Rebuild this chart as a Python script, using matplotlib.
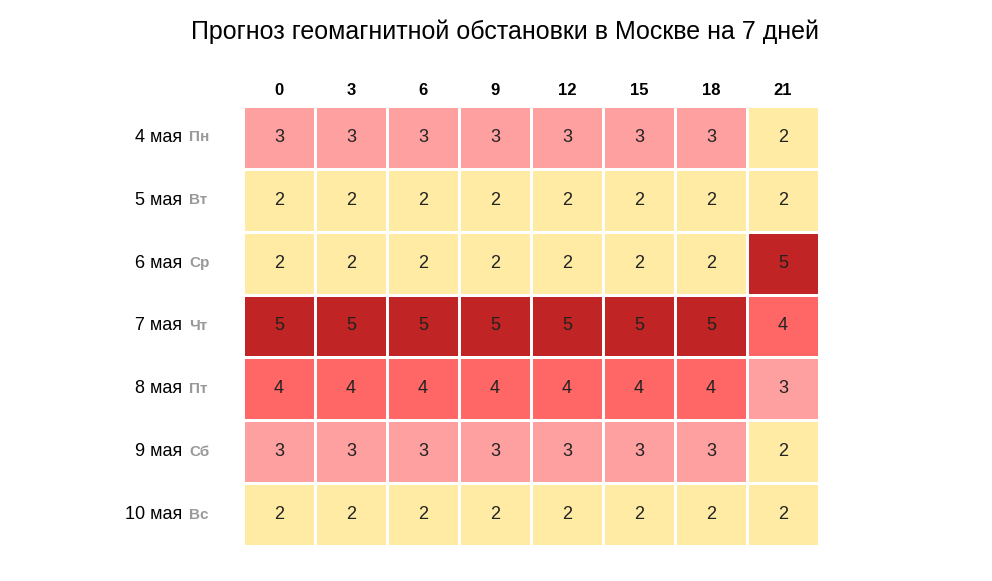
import matplotlib
matplotlib.use("Agg")
import matplotlib.pyplot as plt
from matplotlib.colors import ListedColormap, BoundaryNorm
import numpy as np

hours = ["0", "3", "6", "9", "12", "15", "18", "21"]
dates = ["4 мая", "5 мая", "6 мая", "7 мая", "8 мая", "9 мая", "10 мая"]
weekdays = ["Пн", "Вт", "Ср", "Чт", "Пт", "Сб", "Вс"]
values = [
    [3, 3, 3, 3, 3, 3, 3, 2],
    [2, 2, 2, 2, 2, 2, 2, 2],
    [2, 2, 2, 2, 2, 2, 2, 5],
    [5, 5, 5, 5, 5, 5, 5, 4],
    [4, 4, 4, 4, 4, 4, 4, 3],
    [3, 3, 3, 3, 3, 3, 3, 2],
    [2, 2, 2, 2, 2, 2, 2, 2],
]

plt.rcParams['font.family'] = ['Liberation Sans', 'DejaVu Sans']
fig = plt.figure(figsize=(9.92, 5.81), dpi=100)
ax = fig.add_axes([243/992, 35/581, 576/992, 440/581])
cmap = ListedColormap(["#FFEBA3", "#FFA0A0", "#FF6666", "#C02424"])
norm = BoundaryNorm([1.5, 2.5, 3.5, 4.5, 5.5], 4)
data = np.array(values)
ax.pcolormesh(data, cmap=cmap, norm=norm, edgecolors="white", linewidth=1)
ax.set_xlim(0, len(hours))
ax.set_ylim(len(dates), 0)
for i in range(len(dates)):
    for j in range(len(hours)):
        ax.text(j + 0.5, i + 0.5, str(values[i][j]), ha="center", va="center", fontsize=13, color="#222222")
for s in ax.spines.values():
    s.set_visible(False)
ax.set_xticks(np.arange(len(hours)) + 0.5)
ax.set_xticklabels(hours, fontweight="bold", fontsize=12)
ax.xaxis.tick_top()
ax.tick_params(length=0, pad=6)
ax.set_yticks([])
for i, (d, w) in enumerate(zip(dates, weekdays)):
    ax.text(-0.85, i + 0.5, d, ha="right", va="center", fontsize=13, color="black")
    ax.text(-0.75, i + 0.5, w, ha="left", va="center", fontsize=11, color="#999999", fontweight="bold")
fig.text(505/992, 1 - 32/581, "Прогноз геомагнитной обстановки в Москве на 7 дней", ha="center", va="center", fontsize=18)
fig.savefig("out.png", dpi=100, facecolor="white")
